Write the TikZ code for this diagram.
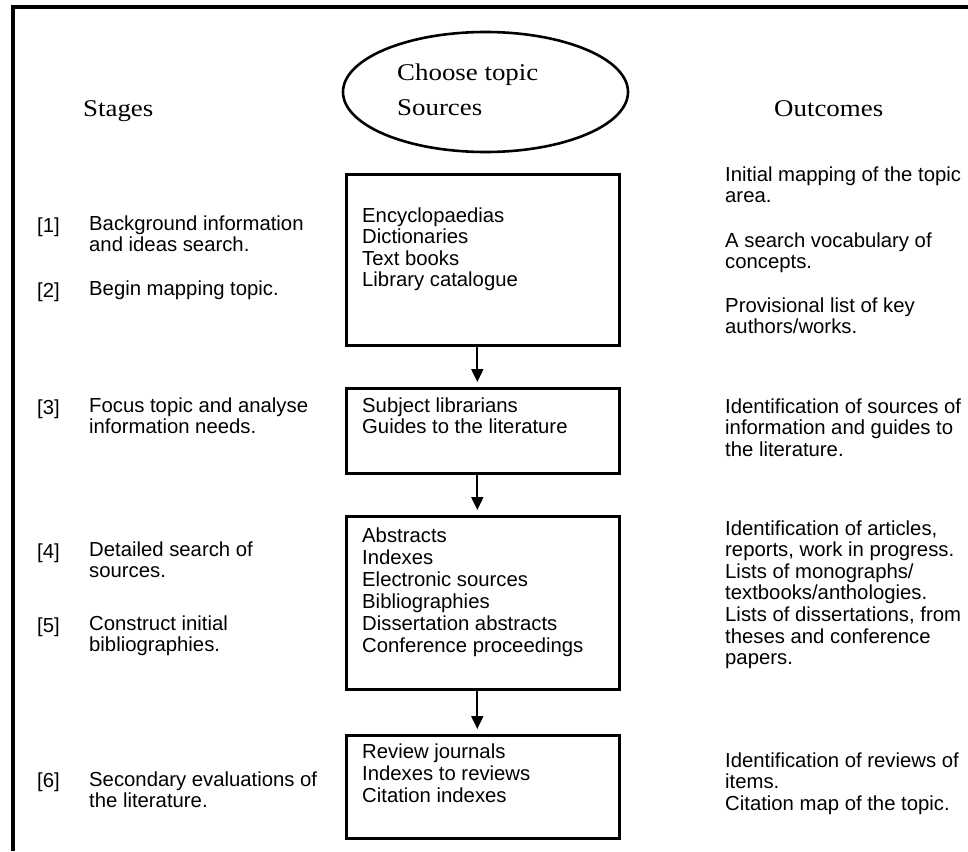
\documentclass[tikz,border=0pt]{standalone}
\usepackage{fontspec}
\setmainfont{Liberation Sans}
\newfontfamily\hdrfont[FakeStretch=1.12]{Liberation Serif}
\usetikzlibrary{arrows.meta,shapes.geometric}
\newcommand\ml[1]{\begin{tabular}[t]{@{}l@{}}#1\end{tabular}}
\begin{document}
\begin{tikzpicture}[x=1pt,y=-1pt,
  txt/.style={anchor=base west, inner sep=0pt, font=\fontsize{20.3}{21.6}\selectfont},
  txtw/.style={anchor=base west, inner sep=0pt, font=\fontsize{20.3}{22}\selectfont},
  hdr/.style={anchor=base west, inner sep=0pt, font=\hdrfont\fontsize{24}{26}\selectfont},
  srcbox/.style={draw, line width=2.6pt, anchor=north west, minimum width=273pt, inner sep=0pt},
  flow/.style={-{Triangle[length=13pt,width=12pt]}, line width=2pt, shorten >=5pt}]
\useasboundingbox (0,0) rectangle (968,851);
\fill[white] (0,0) rectangle (968,851);
% frame
\draw[line width=3.5pt] (968,7) -- (13,7) -- (13,851);
% headers
\node[draw, line width=2.6pt, ellipse, minimum width=285pt, minimum height=120pt, inner sep=0pt] (topic) at (485.5,92) {};
\node[hdr] (choose) at (397,80) {Choose topic};
\node[hdr] (sources) at (397,115) {Sources};
\node[hdr] (stages) at (83,116) {Stages};
\node[hdr] (outcomes) at (774,116) {Outcomes};
% boxes
\node[srcbox, minimum height=171pt] (b1) at (345,173) {};
\node[srcbox, minimum height=85pt] (b2) at (345,387) {};
\node[srcbox, minimum height=173pt] (b3) at (345,515) {};
\node[srcbox, minimum height=103pt] (b4) at (345,734) {};
\draw[flow] ([xshift=-5.5pt]b1.south) -- ([xshift=-5.5pt]b2.north);
\draw[flow] ([xshift=-5.5pt]b2.south) -- ([xshift=-5.5pt]b3.north);
\draw[flow] ([xshift=-5.5pt]b3.south) -- ([xshift=-5.5pt]b4.north);
% box texts
\node[txt] (t1) at (362,222) {\ml{Encyclopaedias\\Dictionaries\\Text books\\Library catalogue}};
\node[txt] (t2) at (362,412) {\ml{Subject librarians\\Guides to the literature}};
\node[txtw] (t3) at (362,542) {\ml{Abstracts\\Indexes\\Electronic sources\\Bibliographies\\Dissertation abstracts\\Conference proceedings}};
\node[txtw] (t4) at (362,758) {\ml{Review journals\\Indexes to reviews\\Citation indexes}};
% stages
\node[txt] (n1) at (37,232) {[1]};
\node[txt] (s1) at (89,230) {\ml{Background information\\and ideas search.}};
\node[txt] (n2) at (37,297) {[2]};
\node[txt] (s2) at (89,295) {Begin mapping topic.};
\node[txt] (n3) at (37,414) {[3]};
\node[txt] (s3) at (89,412) {\ml{Focus topic and analyse\\information needs.}};
\node[txt] (n4) at (37,558) {[4]};
\node[txt] (s4) at (89,556) {\ml{Detailed search of\\sources.}};
\node[txt] (n5) at (37,632) {[5]};
\node[txt] (s5) at (89,630) {\ml{Construct initial\\bibliographies.}};
\node[txt] (n6) at (37,787) {[6]};
\node[txt] (s6) at (89,786) {\ml{Secondary evaluations of\\the literature.}};
% outcomes
\node[txt] (o1) at (725,181) {\ml{Initial mapping of the topic\\area.}};
\node[txt] (o2) at (725,247) {\ml{A search vocabulary of\\concepts.}};
\node[txt] (o3) at (725,312) {\ml{Provisional list of key\\authors/works.}};
\node[txt] (o4) at (725,413) {\ml{Identification of sources of\\information and guides to\\the literature.}};
\node[txt] (o5) at (725,535) {\ml{Identification of articles,\\reports, work in progress.\\Lists of monographs/\\textbooks/anthologies.\\Lists of dissertations, from\\theses and conference\\papers.}};
\node[txt] (o6) at (725,767) {\ml{Identification of reviews of\\items.\\Citation map of the topic.}};
\end{tikzpicture}
\end{document}
